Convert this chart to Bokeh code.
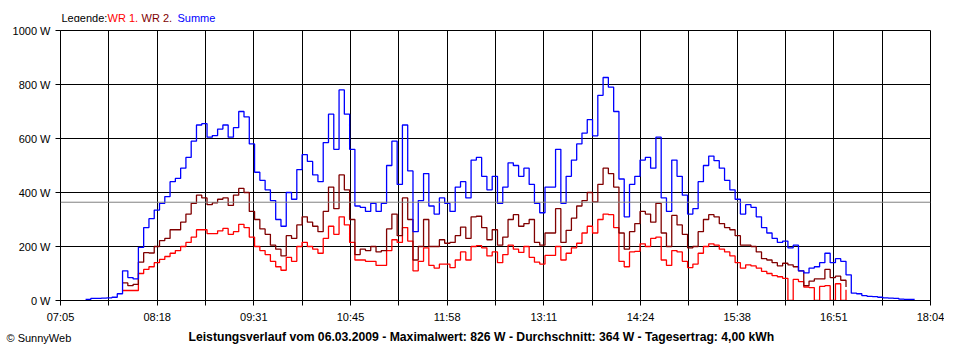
import numpy as np
from bokeh.plotting import figure
from bokeh.layouts import column
from bokeh.models import Range1d, FixedTicker, Span, PrintfTickFormatter
from bokeh.core.properties import value
from bokeh.embed import file_html
from bokeh.resources import INLINE

# ---------------- data ----------------
x_tick_labels = ["07:05", "08:18", "09:31", "10:45", "11:58",
                 "13:11", "14:24", "15:38", "16:51", "18:04"]
y_ticks = [0, 200, 400, 600, 800, 1000]

sample_start = "07:24"      # first sample of "Summe"
sample_step_min = 4
wr_start = "07:52"          # first sample of WR 1 / WR 2

summe = [
    4, 8, 8, 9, 10, 12, 25, 110, 85, 80,
    197, 270, 303, 335, 360, 385, 440, 452, 490, 530,
    590, 650, 655, 605, 611, 635, 650, 605, 640, 700,
    680, 580, 475, 445, 410, 370, 300, 275, 400, 375,
    485, 540, 515, 465, 440, 585, 690, 560, 780, 690,
    560, 350, 345, 330, 360, 330, 360, 500, 590, 430,
    650, 480, 255, 370, 470, 350, 320, 380, 360, 330,
    420, 440, 380, 520, 530, 460, 410, 460, 360, 420,
    510, 500, 460, 490, 430, 360, 325, 420, 420, 560,
    360, 460, 520, 580, 620, 670, 610, 760, 826, 790,
    700, 450, 310, 430, 460, 520, 530, 490, 605, 380,
    330, 520, 460, 390, 320, 340, 440, 500, 535, 518,
    490, 445, 410, 375, 320, 355, 345, 310, 270, 250,
    230, 215, 220, 195, 205, 110, 102, 120, 125, 140,
    175, 140, 155, 145, 95, 27, 25, 18, 15, 14,
    12, 10, 9, 8, 5, 4, 4, 4,
]

wr2 = [
    65, 55, 60,
    142, 177, 176, 200, 222, 230, 262, 262, 290, 320,
    360, 390, 380, 355, 362, 375, 380, 352, 390, 415,
    400, 330, 300, 265, 245, 205, 190, 165, 240, 230,
    280, 310, 290, 275, 255, 330, 420, 340, 465, 410,
    300, 170, 190, 185, 200, 180, 185, 265, 320, 240,
    380, 300, 150, 200, 300, 200, 200, 225, 212, 215,
    240, 272, 230, 310, 312, 270, 225, 262, 205, 235,
    300, 318, 275, 285, 300, 215, 205, 250, 250, 340,
    215, 260, 305, 350, 370, 400, 365, 430, 490, 470,
    420, 250, 190, 255, 285, 330, 320, 290, 360, 250,
    200, 315, 280, 245, 195, 200, 255, 300, 318, 310,
    285, 270, 262, 240, 205, 205, 200, 180, 155, 150,
    140, 128, 138, 132, 125, 110, 55, 72, 80, 80,
    115, 85, 90, 75, 50,
]

wr1 = [
    37, 37, 37,
    100, 115, 125, 140, 152, 163, 175, 185, 200, 215,
    235, 262, 262, 248, 248, 258, 267, 245, 255, 282,
    270, 235, 200, 185, 170, 145, 125, 112, 160, 145,
    200, 215, 200, 190, 175, 230, 275, 245, 310, 280,
    215, 150, 150, 145, 145, 130, 130, 185, 225, 215,
    270, 220, 110, 145, 195, 130, 120, 135, 135, 122,
    150, 180, 150, 200, 203, 195, 165, 180, 140, 170,
    205, 190, 178, 200, 160, 142, 135, 167, 167, 200,
    150, 175, 195, 212, 250, 275, 250, 300, 320, 318,
    270, 145, 125, 180, 182, 210, 200, 230, 235, 150,
    130, 185, 180, 145, 122, 135, 175, 200, 210, 205,
    190, 180, 165, 140, 120, 132, 128, 120, 108, 100,
    92, 88, 82, 0, 78, 70, 50, 48, 0, 52,
    55, 0, 62, 0, 40,
]

average_w = 364
legend_texts = ["Legende:", "WR 1,", "WR 2,", "Summe"]
title_text = ("Leistungsverlauf vom 06.03.2009 - Maximalwert: 826 W - "
              "Durchschnitt: 364 W - Tagesertrag: 4,00 kWh")
credit_text = "\u00a9 SunnyWeb"

C_WR1 = "#FF0000"
C_WR2 = "#800000"
C_SUM = "#0000FF"
FONT = "Liberation Sans"


def hm(s):
    h, m = s.split(":")
    return int(h) * 60 + int(m)


t_sum = hm(sample_start) + sample_step_min * np.arange(len(summe))
t_wr = hm(wr_start) + sample_step_min * np.arange(len(wr1))

x0, x1 = hm(x_tick_labels[0]), hm(x_tick_labels[-1])
n = len(x_tick_labels)
major = [x0 + k * (x1 - x0) / (n - 1) for k in range(n)]
minor = [x0 + (k + 0.5) * (x1 - x0) / (n - 1) for k in range(n - 1)]

# ---------------- layout geometry (px) ----------------
W = 944
HEAD_H = 22
FL, FR, FT, FB = 60, 14, 8, 26
FRAME_H = 270
MAIN_H = FT + FRAME_H + FB
FOOT_H = 344 - HEAD_H - MAIN_H


def text_strip(height):
    f = figure(width=W, height=height, output_backend="svg", toolbar_location=None,
               title=None, x_axis_type=None, y_axis_type=None, frame_align=False,
               x_range=Range1d(0, W), y_range=Range1d(height, 0))
    f.min_border_left = f.min_border_right = 0
    f.min_border_top = f.min_border_bottom = 0
    f.outline_line_color = None
    f.background_fill_color = "white"
    f.border_fill_color = "white"
    return f


# ---------------- header (legend) ----------------
head = text_strip(HEAD_H)
head.text(x=[61, 107, 141, 177], y=[HEAD_H - 5] * 4, text=legend_texts,
          text_color=["black", C_WR1, C_WR2, C_SUM],
          text_font=value(FONT), text_font_size="11px",
          text_align="left", text_baseline="middle")

# ---------------- main chart ----------------
p = figure(width=W, height=MAIN_H, output_backend="svg", toolbar_location=None,
           title=None, frame_align=False,
           x_range=Range1d(x0, x1), y_range=Range1d(0, 1000))
p.min_border_left = FL
p.min_border_right = FR
p.min_border_top = FT
p.min_border_bottom = FB
p.background_fill_color = "white"
p.border_fill_color = "white"
p.outline_line_color = "black"
p.outline_line_width = 1

for ax in (p.xaxis[0], p.yaxis[0]):
    ax.axis_line_color = "black"
    ax.major_tick_line_color = "black"
    ax.major_tick_in = 0
    ax.major_tick_out = 5
    ax.major_label_standoff = 5
    ax.major_label_text_font = FONT
    ax.major_label_text_font_size = "11px"
    ax.major_label_text_color = "black"

p.xaxis.ticker = FixedTicker(ticks=major, minor_ticks=minor)
p.xaxis.major_label_overrides = {t: s for t, s in zip(major, x_tick_labels)}
p.xaxis.minor_tick_line_color = "black"
p.xaxis.minor_tick_in = 0
p.xaxis.minor_tick_out = 5

p.yaxis.ticker = FixedTicker(ticks=y_ticks)
p.yaxis.formatter = PrintfTickFormatter(format="%d W")
p.yaxis.minor_tick_line_color = None

p.xgrid.grid_line_color = "black"
p.xgrid.minor_grid_line_color = "black"
p.ygrid.grid_line_color = "black"
p.xgrid.grid_line_alpha = 1
p.ygrid.grid_line_alpha = 1

p.add_layout(Span(location=average_w, dimension="width",
                  line_color="#808080", line_width=1))

p.step(t_wr, np.array(wr1, dtype=float), mode="after", line_color=C_WR1, line_width=1.3)
p.step(t_wr, np.array(wr2, dtype=float), mode="after", line_color=C_WR2, line_width=1.3)
p.step(t_sum, np.array(summe, dtype=float), mode="after", line_color=C_SUM, line_width=1.3)

# ---------------- footer (title + credit) ----------------
foot = text_strip(FOOT_H)
foot.text(x=[188], y=[FOOT_H / 2 + 1], text=[title_text], text_color="black",
          text_font=value(FONT), text_font_size="12.2px", text_font_style="bold",
          text_align="left", text_baseline="middle")
foot.text(x=[6], y=[FOOT_H / 2 + 2], text=[credit_text], text_color="black",
          text_font=value(FONT), text_font_size="11px",
          text_align="left", text_baseline="middle")

layout = column(head, p, foot, spacing=0)
open("out.html", "w").write(file_html(layout, INLINE))
